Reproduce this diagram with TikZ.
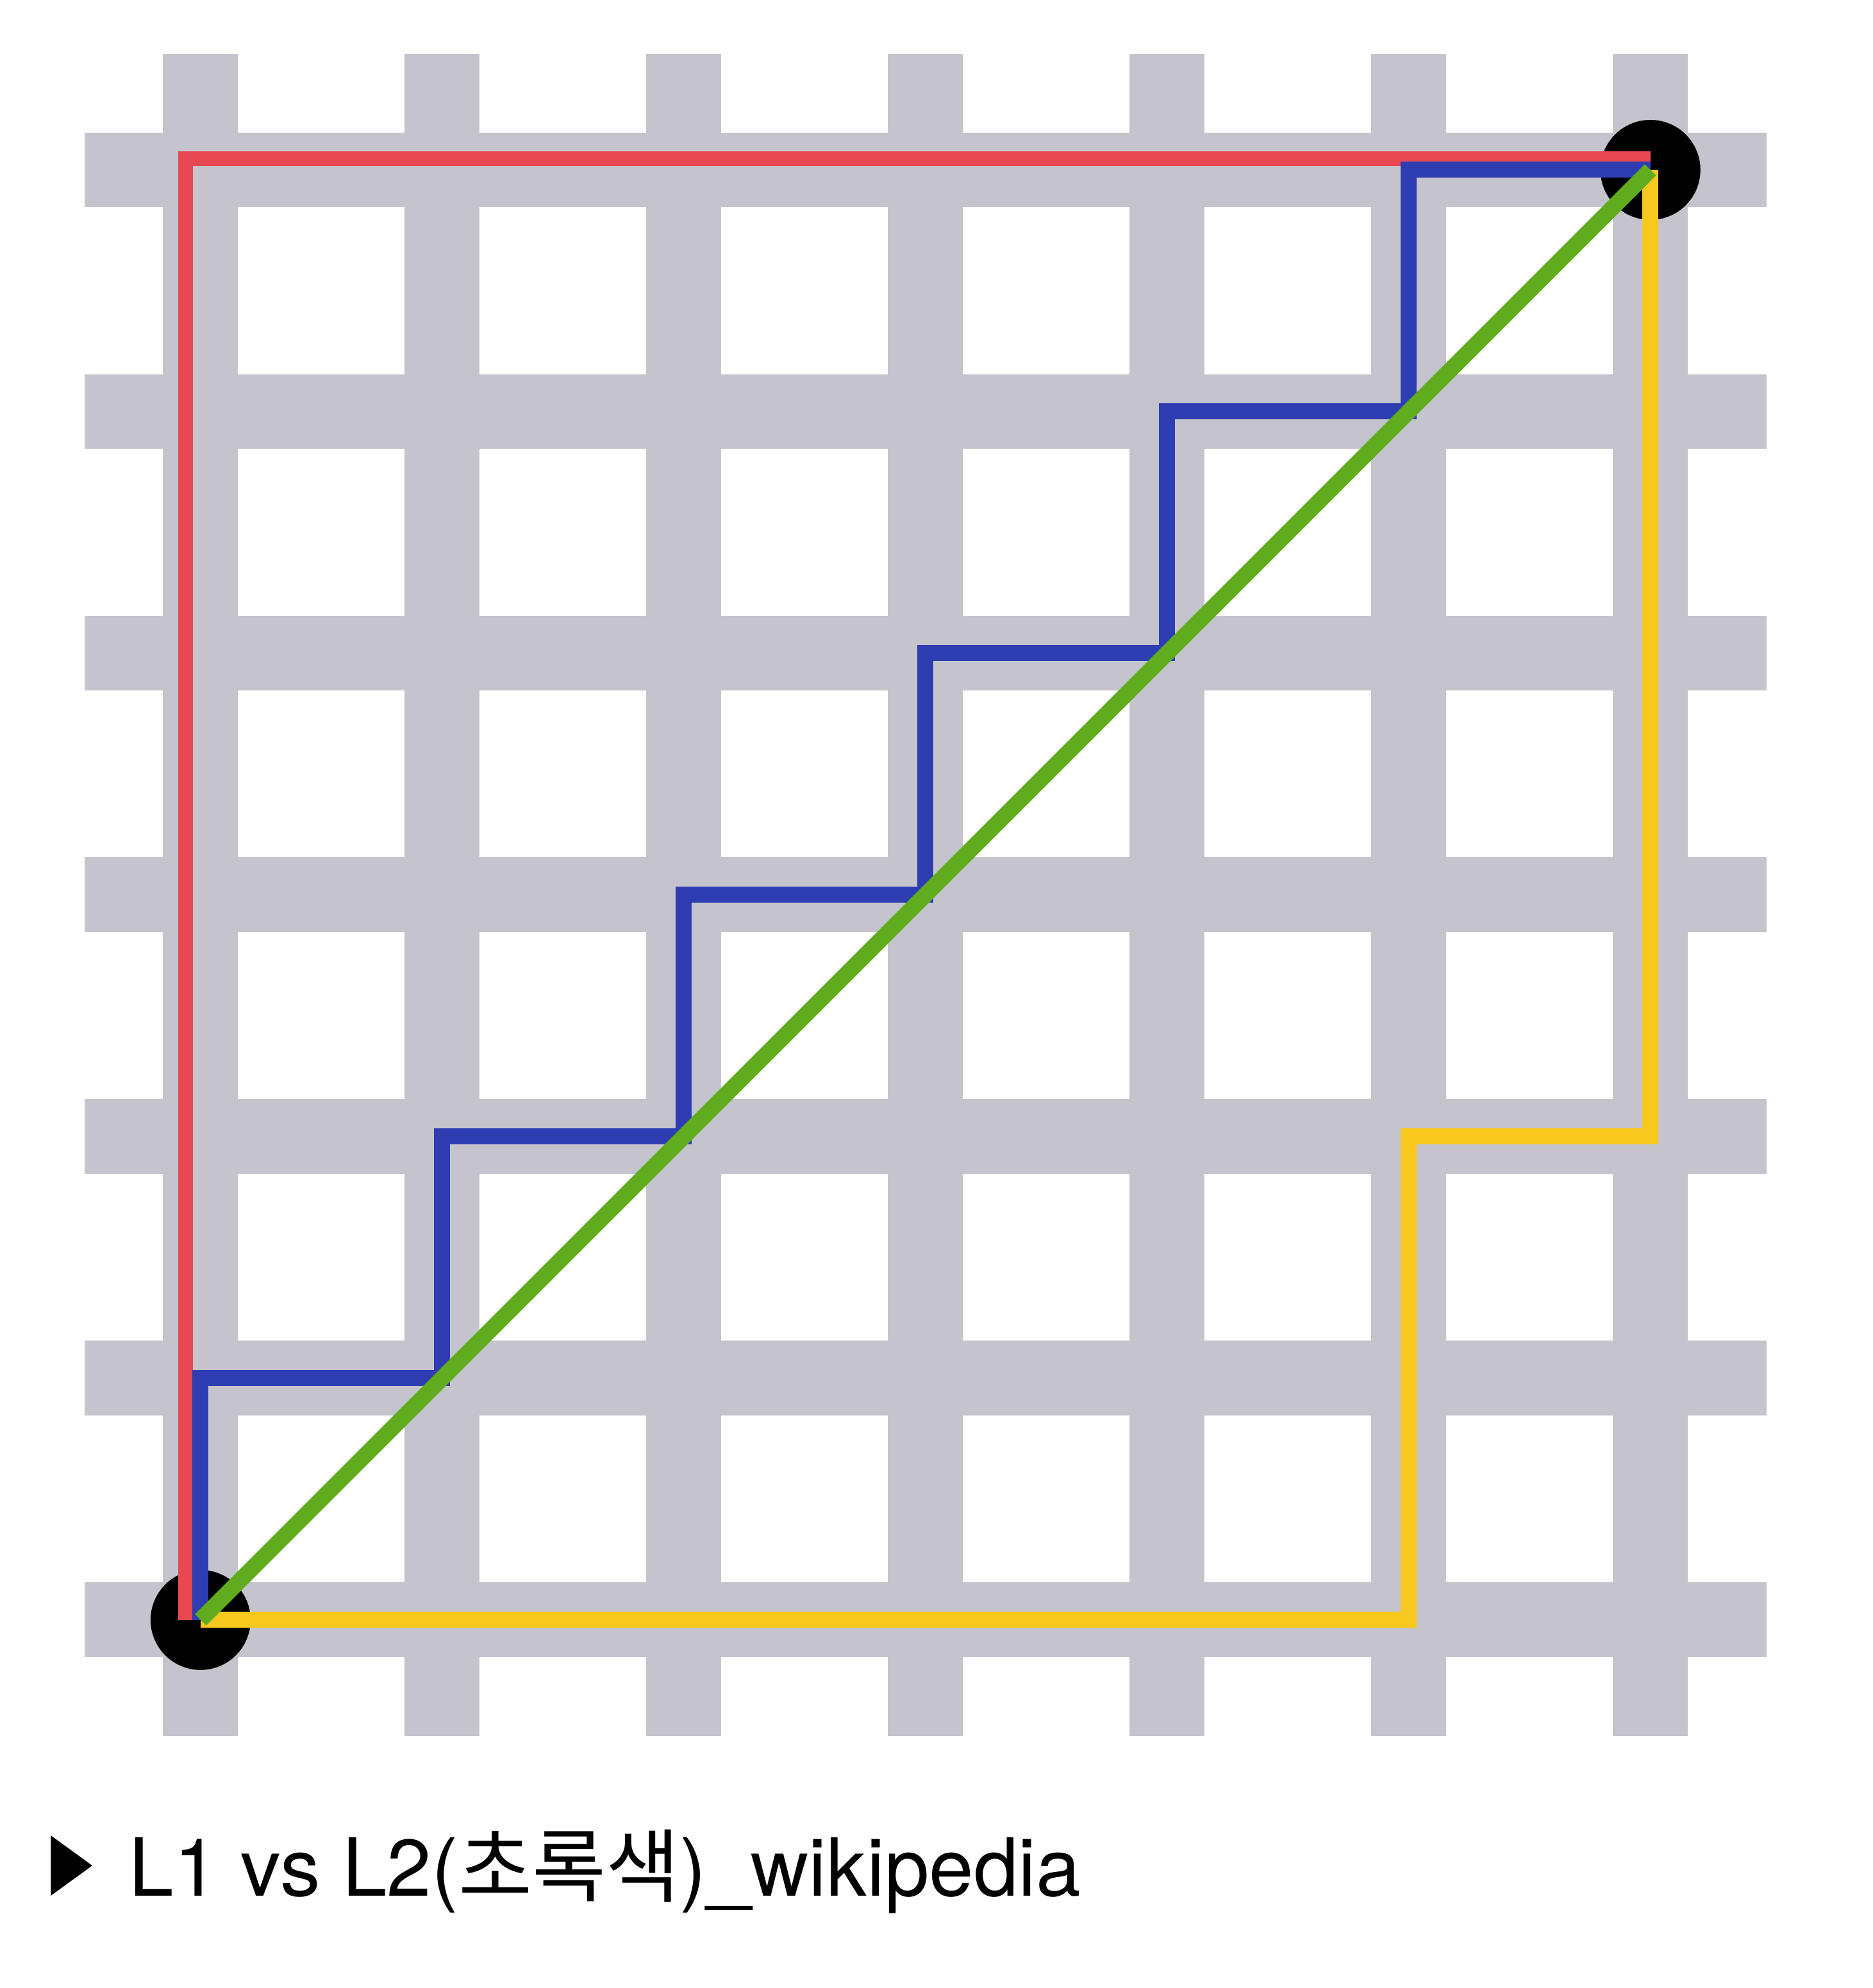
\documentclass[tikz,border=0pt]{standalone}
\usepackage{fontspec}
\setmainfont{TeX Gyre Heros}
\newfontfamily\kr{Noto Sans CJK KR}
\newfontfamily\sym{DejaVu Sans}
\definecolor{bargray}{RGB}{197,196,205}
\definecolor{lonered}{RGB}{232,72,82}
\definecolor{loneblue}{RGB}{46,62,178}
\definecolor{loneyellow}{RGB}{248,200,30}
\definecolor{ltwogreen}{RGB}{96,172,30}

\begin{document}
\begin{tikzpicture}[x = 3.77cm, y = 3.77cm, % one grid step
                line width = 0.25cm % line style
            ]

            \tikzstyle{bar}=[fill = bargray]
            \tikzstyle{redline}=[draw = lonered, line width = 0.23cm]
            \tikzstyle{blueline}=[draw = loneblue]
            \tikzstyle{yellowline}=[draw = loneyellow]
            \tikzstyle{greenline}=[draw = ltwogreen]

            \useasboundingbox (-0.830,-1.523) rectangle (6.920,6.703);

            % the street grid
            \foreach \i in {0,...,6} {
                \fill[bar] (\i-0.155,-0.48) rectangle (\i+0.155,6.48);
                \fill[bar] (-0.48,\i-0.155) rectangle (6.48,\i+0.155);
            }

            \coordinate (a) at (0,0); \coordinate (b) at (6,6);
            \fill (a) circle (0.78cm); \fill (b) circle (0.78cm);

            \draw[redline] ([xshift=-0.23cm]a) |- ([yshift=0.17cm]b);
            \draw[blueline] (a) foreach \k in {1,...,5} { |- (\k,\k) } |- (b);
            \draw[yellowline] (a) -| (5,2) -| (b);
            \draw[greenline] (a) -- (b);

            \node (mark) [inner sep = 0, font = \sym\fontsize{35pt}{42pt}\selectfont]
                at (-0.533,-1.019) {\scalebox{0.69}[1]{▶}};
            \node (cap) [anchor = base west, inner sep = 0,
                font = \fontsize{35.6pt}{43pt}\selectfont]
                at (-0.328,-1.141) {L1 vs L2({\kr 초록색})\_wikipedia};
        \end{tikzpicture}
\end{document}
